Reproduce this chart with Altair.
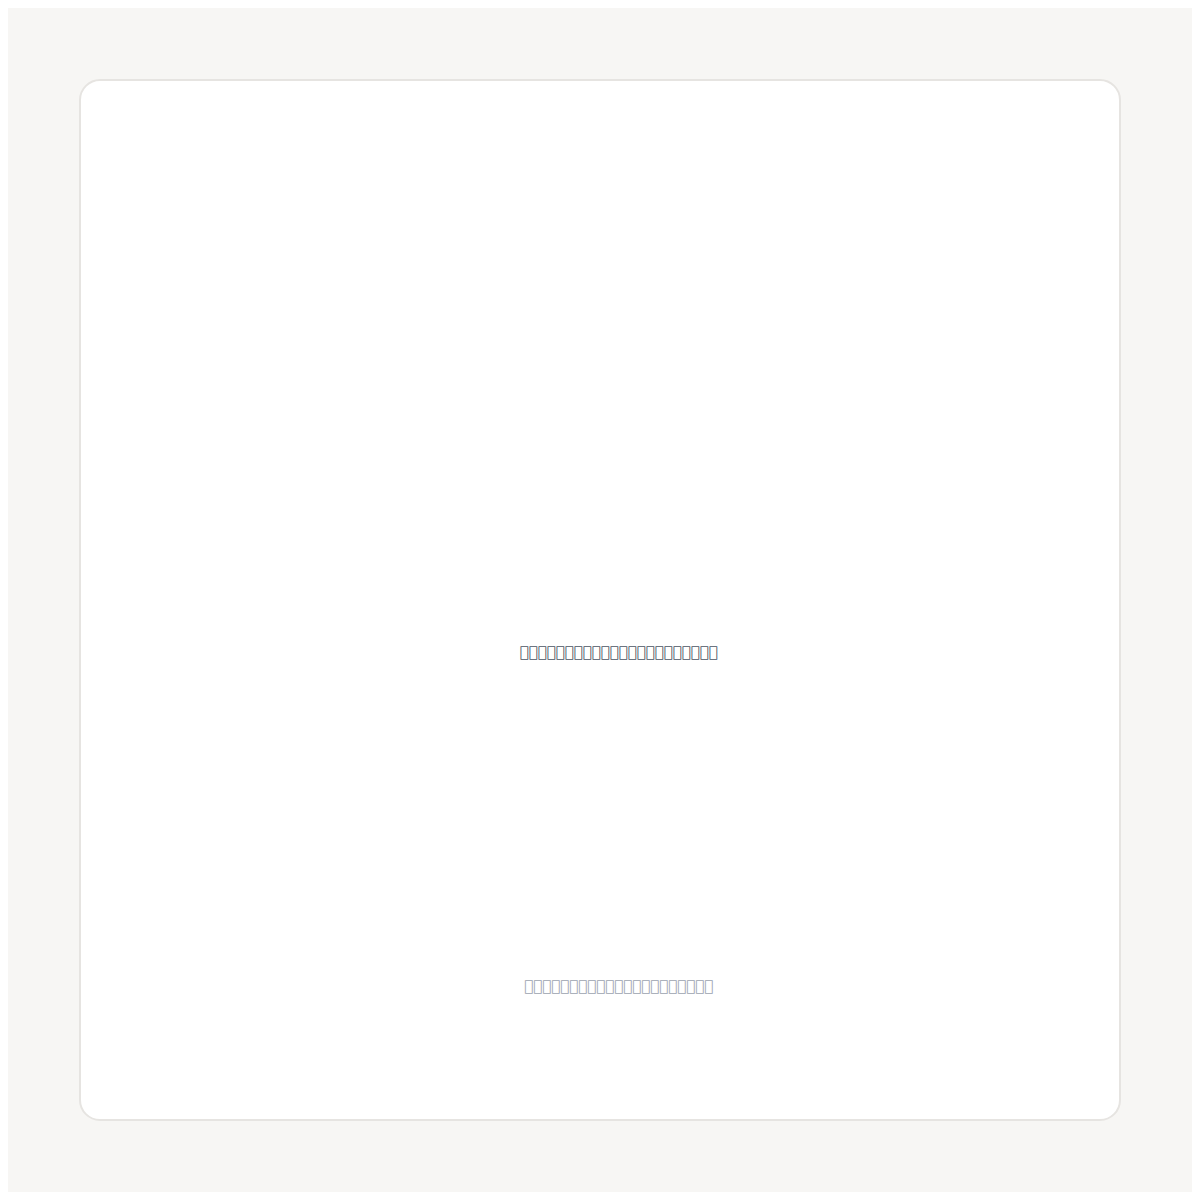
import altair as alt
import pandas as pd

# Text lines as they appear in the reference (glyphs without font coverage)
message = ["".join(chr(0xE000 + i) for i in range(22))]
caption = ["".join(chr(0xE100 + i) for i in range(21))]

W = 1184
H = 1184

base = alt.Chart(pd.DataFrame({"k": [0]}))

card = base.mark_rect(
    fill="#ffffff", stroke="#e6e4e1", strokeWidth=2, cornerRadius=20
).encode(x=alt.value(72), x2=alt.value(1112), y=alt.value(72), y2=alt.value(1112))

msg = alt.Chart(pd.DataFrame({"t": message})).mark_text(
    fontSize=15, font="DejaVu Sans", color="#4b5563", align="center", baseline="middle"
).encode(text="t:N", x=alt.value(610.5), y=alt.value(643.5))

cap = alt.Chart(pd.DataFrame({"t": caption})).mark_text(
    fontSize=15, font="DejaVu Sans", color="#9ca3af", align="center", baseline="middle"
).encode(text="t:N", x=alt.value(610.5), y=alt.value(978))

chart = alt.layer(card, msg, cap).properties(
    width=W, height=H, background="#f7f6f4", padding=0, autosize="none"
).configure_view(strokeWidth=0)

chart.save("out.html", embed_options={"renderer": "svg", "actions": False})
